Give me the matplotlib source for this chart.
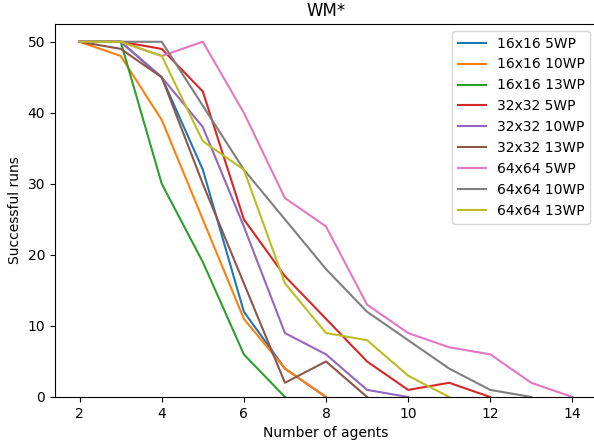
import matplotlib
matplotlib.use("Agg")
import matplotlib.pyplot as plt

# successful runs per number of agents (agents start at 2)
labels = ["16x16 5WP", "16x16 10WP", "16x16 13WP",
          "32x32 5WP", "32x32 10WP", "32x32 13WP",
          "64x64 5WP", "64x64 10WP", "64x64 13WP"]

runs_16_5 = [50, 50, 45, 32, 12, 4, 0]
runs_16_10 = [50, 48, 39, 25, 11, 4, 0]
runs_16_13 = [50, 50, 30, 19, 6, 0]
runs_32_5 = [50, 50, 49, 43, 25, 17, 11, 5, 1, 2, 0]
runs_32_10 = [50, 50, 45, 38, 24, 9, 6, 1, 0]
runs_32_13 = [50, 49, 45, 30, 16, 2, 5, 0]
runs_64_5 = [50, 50, 48, 50, 40, 28, 24, 13, 9, 7, 6, 2, 0]
runs_64_10 = [50, 50, 50, 41, 32, 25, 18, 12, 8, 4, 1, 0]
runs_64_13 = [50, 50, 48, 36, 32, 16, 9, 8, 3, 0]

all_runs = [runs_16_5, runs_16_10, runs_16_13,
            runs_32_5, runs_32_10, runs_32_13,
            runs_64_5, runs_64_10, runs_64_13]

fig = plt.figure(figsize=(5.94, 4.43), dpi=100)
ax = fig.add_axes([55 / 594, 46 / 443, 542 / 594, 373 / 443])

for lbl, runs in zip(labels, all_runs):
    agents = list(range(2, 2 + len(runs)))
    ax.plot(agents, runs, label=lbl)

ax.set_ylim(bottom=0)
ax.set_xlim(1.4, 14.6)
ax.set_title("WM*")
ax.set_xlabel("Number of agents")
ax.set_ylabel("Successful runs")
ax.legend(loc="upper right")

fig.savefig("out.png", dpi=100)
